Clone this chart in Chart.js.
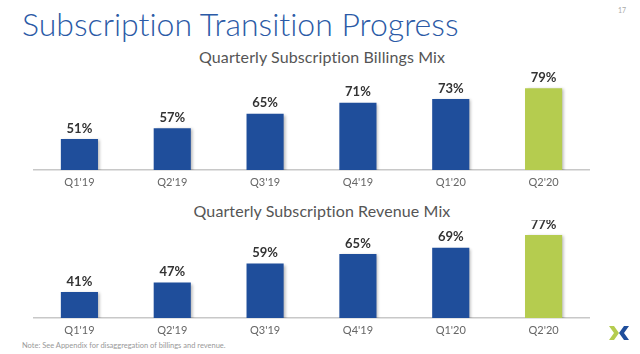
<!DOCTYPE html>
<html>
<head>
<meta charset="utf-8">
<script src="https://cdn.jsdelivr.net/npm/chart.js@4"></script>
<style>
  body { margin: 0; background: #fff; width: 640px; height: 354px; position: relative; overflow: hidden; font-family: Lato, "Open Sans", sans-serif; font-variant-ligatures: none; }
  .title { position: absolute; left: 22px; top: 4px; font-size: 32px; font-weight: 300; color: #2b5aa6; }
  .sub { position: absolute; left: 0; width: 644px; text-align: center; font-size: 16px; color: #555; font-weight: 400; letter-spacing: 0.1px; }
  .page { position: absolute; left: 618px; top: 6px; font-size: 7px; color: #aaa; }
  .note { position: absolute; left: 22px; top: 341px; font-size: 7.5px; color: #999; }
  .box { position: absolute; left: 33px; width: 557px; }
  .logo { position: absolute; left: 608px; top: 325px; }
</style>
</head>
<body>
<div class="title">Subscription Transition Progress</div>
<div class="page">17</div>
<div class="sub" style="top:47px">Quarterly Subscription Billings Mix</div>
<div class="box" style="top:70px;height:120px"><canvas id="billings"></canvas></div>
<div class="sub" style="top:201px">Quarterly Subscription Revenue Mix</div>
<div class="box" style="top:220px;height:118px"><canvas id="revenue"></canvas></div>
<div class="note">Note: See Appendix for disaggregation of billings and revenue.</div>
<svg class="logo" width="22" height="16" viewBox="0 0 22 16">
  <path d="M1 1 L6 1 L11 8 L6 15 L1 15 L6 8 Z" fill="#b5cc4f"/>
  <path d="M21 1 L16 1 L11 8 L16 15 L21 15 L16 8 Z" fill="#1f4e9b"/>
</svg>
<script>
var quarters = ["Q1'19", "Q2'19", "Q3'19", "Q4'19", "Q1'20", "Q2'20"];
var billingsMix = [51, 57, 65, 71, 73, 79];
var revenueMix = [41, 47, 59, 65, 69, 77];

var blue = "#1f4e9b";
var green = "#b5cc4f";
var barColors = quarters.map(function (q, i) { return i === quarters.length - 1 ? green : blue; });

var valueLabels = {
  id: "valueLabels",
  beforeDatasetDraw: function (chart) {
    var ctx = chart.ctx;
    ctx.save();
    ctx.shadowColor = "rgba(0,0,0,0.28)";
    ctx.shadowOffsetX = 2;
    ctx.shadowOffsetY = 1;
    ctx.shadowBlur = 3;
  },
  afterDatasetDraw: function (chart) {
    chart.ctx.restore();
  },
  afterDatasetsDraw: function (chart) {
    var ctx = chart.ctx;
    var meta = chart.getDatasetMeta(0);
    var data = chart.data.datasets[0].data;
    ctx.save();
    ctx.font = "bold 13px Lato, 'Open Sans', sans-serif";
    ctx.fillStyle = "#333";
    ctx.textAlign = "center";
    ctx.textBaseline = "bottom";
    meta.data.forEach(function (bar, i) {
      ctx.fillText(data[i] + "%", bar.x, bar.y - 4);
    });
    ctx.restore();
  }
};

function makeChart(id, values, yMin, yMax) {
  return new Chart(document.getElementById(id), {
    type: "bar",
    data: {
      labels: quarters,
      datasets: [{
        data: values,
        backgroundColor: barColors,
        barPercentage: 0.4,
        categoryPercentage: 1
      }]
    },
    options: {
      responsive: true,
      maintainAspectRatio: false,
      animation: false,
      layout: { padding: 0 },
      plugins: { legend: { display: false }, tooltip: { enabled: false } },
      scales: {
        x: {
          afterFit: function (scale) { scale.height = 20; },
          grid: { display: false, drawTicks: false },
          border: { display: true, color: "#c8c8c8", width: 1.5 },
          ticks: { color: "#666", padding: 6, font: { size: 11, family: "Lato, 'Open Sans', sans-serif" } }
        },
        y: {
          display: false,
          min: yMin,
          max: yMax
        }
      }
    },
    plugins: [valueLabels]
  });
}

makeChart("billings", billingsMix, 34, 89);
makeChart("revenue", revenueMix, 24.6, 86.5);
</script>
</body>
</html>
